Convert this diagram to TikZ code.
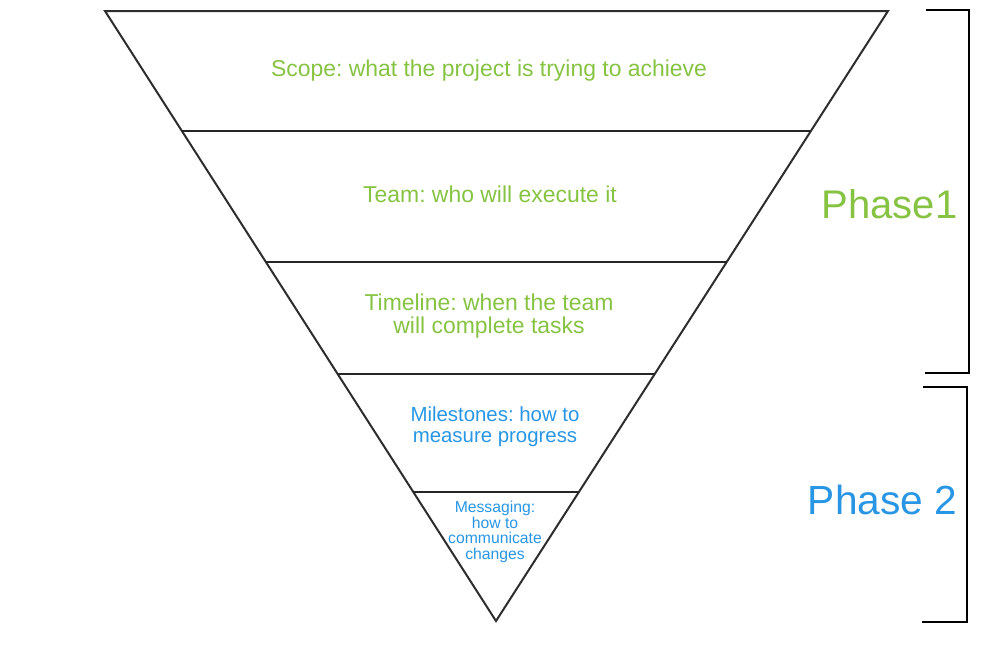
\documentclass[tikz,border=0pt]{standalone}
\usepackage{fontspec}
\setmainfont{Liberation Sans}
\frenchspacing
\usetikzlibrary{calc}
\definecolor{phgreen}{RGB}{134,195,66}
\definecolor{phblue}{RGB}{40,150,228}
\definecolor{edge}{RGB}{45,45,45}
\tikzset{
  tri/.style={draw=edge, line width=1.5pt, line join=miter},
  band/.style={draw=black!85, line width=1.7pt},
  brack/.style={draw=black, line width=1.9pt, line join=miter},
  greentxt/.style={text=phgreen, inner sep=0pt, align=center},
  bluetxt/.style={text=phblue, inner sep=0pt, align=center},
}
\begin{document}
\begin{tikzpicture}[x=0.75pt, y=-0.75pt]
\useasboundingbox (0,0) rectangle (1000,651);
% triangle corners
\coordinate (A) at (105,11);
\coordinate (B) at (888,11);
\coordinate (C) at (496,621);
\draw[tri] (A) -- (B) -- (C) -- cycle;
% band lines
\coordinate (L1) at ($(A)!0.1967!(C)$);
\coordinate (R1) at ($(B)!0.1967!(C)$);
\coordinate (L2) at ($(A)!0.4115!(C)$);
\coordinate (R2) at ($(B)!0.4115!(C)$);
\coordinate (L3) at ($(A)!0.5951!(C)$);
\coordinate (R3) at ($(B)!0.5951!(C)$);
\coordinate (L4) at ($(A)!0.7885!(C)$);
\coordinate (R4) at ($(B)!0.7885!(C)$);
\draw[band] (L1) -- (R1);
\draw[band] (L2) -- (R2);
\draw[band] (L3) -- (R3);
\draw[band] (L4) -- (R4);
% texts
\node[greentxt, anchor=base, font=\fontsize{17.2pt}{20pt}\selectfont] (scope) at (489,76) {Scope: what the project is trying to achieve};
\node[greentxt, anchor=base, font=\fontsize{17.2pt}{20pt}\selectfont] (team) at (490,202) {Team: who will execute it};
\node[greentxt, anchor=center, font=\fontsize{17.2pt}{17pt}\selectfont] (timeline) at (489,316) {Timeline: when the team\\will complete tasks};
\node[bluetxt, anchor=center, font=\fontsize{15.3pt}{16pt}\selectfont] (milestones) at (495,427) {Milestones: how to\\measure progress};
\node[bluetxt, anchor=center, font=\fontsize{11.8pt}{11.8pt}\selectfont] (messaging) at (495,532) {Messaging:\\how to\\communicate\\changes};
\node[greentxt, anchor=base, font=\fontsize{30pt}{32pt}\selectfont] (phase1) at (889.5,218) {Phase1};
\node[bluetxt, anchor=base, font=\fontsize{30.5pt}{32pt}\selectfont] (phase2) at (882.5,514) {Phase 2};
% brackets
\coordinate (b1a) at (926,10);
\coordinate (b1b) at (969,10);
\coordinate (b1c) at (969,373);
\coordinate (b1d) at (925,373);
\draw[brack] (b1a) -- (b1b) -- (b1c) -- (b1d);
\coordinate (b2a) at (923,387);
\coordinate (b2b) at (967,387);
\coordinate (b2c) at (967,622);
\coordinate (b2d) at (922,622);
\draw[brack] (b2a) -- (b2b) -- (b2c) -- (b2d);
\end{tikzpicture}
\end{document}
